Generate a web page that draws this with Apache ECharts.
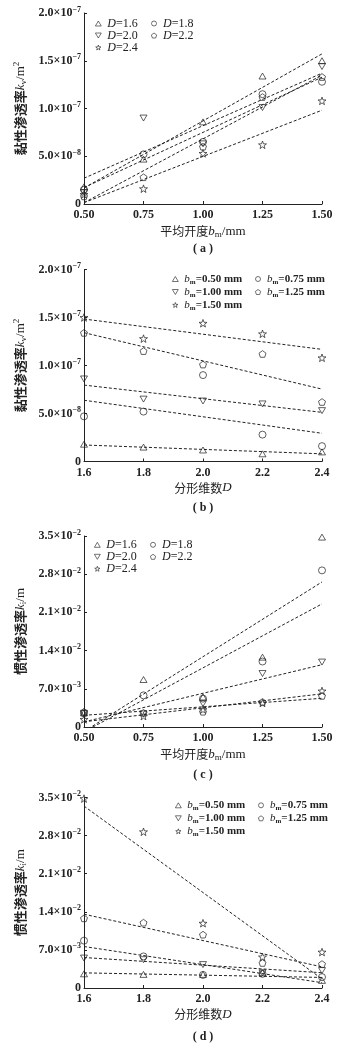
<!DOCTYPE html>
<html><head><meta charset="utf-8">
<script src="https://cdn.jsdelivr.net/npm/echarts@6/dist/echarts.min.js"></script>
<style>html,body{margin:0;padding:0;background:#fff}#c{width:357px;height:1051px}</style>
</head><body><div id="c"></div>
<script>
// ---------- data ----------
const bmMm = [0.50, 0.75, 1.00, 1.25, 1.50];          // mean aperture b_m (mm)
const fractalD = [1.6, 1.8, 2.0, 2.2, 2.4];           // fractal dimension D
// viscous permeability k_v (m^2), one row per D, columns follow bmMm
const kvD16 = [1.8e-8, 4.7e-8, 8.6e-8, 1.34e-7, 1.50e-7];
const kvD18 = [1.5e-8, 5.2e-8, 6.5e-8, 1.15e-7, 1.28e-7];
const kvD20 = [1.2e-8, 9.0e-8, 6.3e-8, 1.01e-7, 1.44e-7];
const kvD22 = [0.8e-8, 2.8e-8, 6.0e-8, 1.12e-7, 1.33e-7];
const kvD24 = [1.0e-8, 1.6e-8, 5.3e-8, 6.2e-8, 1.08e-7];
// inertial permeability k_i (m), one row per D, columns follow bmMm
const kiD16 = [2.6e-3, 8.7e-3, 5.5e-3, 1.28e-2, 3.48e-2];
const kiD18 = [2.5e-3, 5.8e-3, 5.2e-3, 1.20e-2, 2.87e-2];
const kiD20 = [2.5e-3, 2.4e-3, 4.3e-3, 9.8e-3, 1.19e-2];
const kiD22 = [2.8e-3, 2.6e-3, 2.8e-3, 4.6e-3, 5.7e-3];
const kiD24 = [1.4e-3, 2.0e-3, 3.2e-3, 4.4e-3, 6.6e-3];
// legend names
const dNames = ['1.6', '1.8', '2.0', '2.2', '2.4'];
const bmNames = ['0.50', '0.75', '1.00', '1.25', '1.50'];
// tick labels
const bmTickLabels = ['0.50', '0.75', '1.00', '1.25', '1.50'];
const dTickLabels = ['1.6', '1.8', '2.0', '2.2', '2.4'];
const kvTickLabels = ['0', '5.0×10^−8', '1.0×10^−7', '1.5×10^−7', '2.0×10^−7'];
const kiTickLabels = ['0', '7.0×10^−3', '1.4×10^−2', '2.1×10^−2', '2.8×10^−2', '3.5×10^−2'];
const captions = ['( a )', '( b )', '( c )', '( d )'];

// ---------- styling ----------
const NUM = '"Liberation Serif","Times New Roman",serif';
const CJK = '"Noto Sans CJK SC","Noto Sans CJK JP",sans-serif';
const INK = '#222';
const SYM = [
  'path://M10,0 L20,17 L0,17 Z',
  'circle',
  'path://M0,0 L20,0 L10,17 Z',
  'path://M10,0 L19.51,6.91 L15.88,18.09 L4.12,18.09 L0.49,6.91 Z',
  'path://M10,0 L12.35,6.76 L19.51,6.91 L13.8,11.24 L15.88,18.09 L10,14 L4.12,18.09 L6.2,11.24 L0.49,6.91 L7.65,6.76 Z'
];
const grids = [
  {left: 84, top: 13, width: 238, height: 191},
  {left: 84, top: 269.5, width: 238, height: 192},
  {left: 84, top: 536, width: 238, height: 191},
  {left: 84, top: 797.5, width: 238, height: 190.5}
];

const kvRows = [kvD16, kvD18, kvD20, kvD22, kvD24];
const kiRows = [kiD16, kiD18, kiD20, kiD22, kiD24];
const transpose = rows => rows[0].map((_, j) => rows.map(r => r[j]));

function linFit(xs, ys) {
  const n = xs.length;
  const mx = xs.reduce((a, b) => a + b, 0) / n;
  const my = ys.reduce((a, b) => a + b, 0) / n;
  let sxy = 0, sxx = 0;
  for (let i = 0; i < n; i++) { sxy += (xs[i] - mx) * (ys[i] - my); sxx += (xs[i] - mx) ** 2; }
  const k = sxy / sxx;
  return x => my + k * (x - mx);
}

const subRich = {
  c: {fontFamily: CJK, fontSize: 12, color: INK},
  cb: {fontFamily: CJK, fontSize: 13, fontWeight: 'bold', color: INK},
  i: {fontFamily: NUM, fontSize: 13, fontStyle: 'italic', color: INK},
  n: {fontFamily: NUM, fontSize: 13, color: INK},
  sub: {fontFamily: NUM, fontSize: 9, color: INK, padding: [6, 0, 0, 0]},
  sup: {fontFamily: NUM, fontSize: 9, color: INK, padding: [0, 0, 7, 0]}
};

function yFormatter(labels, step) {
  return v => {
    const s = labels[Math.round(v / step)] || '';
    if (s.indexOf('^') < 0) return '{m|' + s + '}';
    const p = s.split('^');
    return '{m|' + p[0] + '}{e|' + p[1] + '}';
  };
}
const yRich = {
  m: {fontFamily: NUM, fontSize: 12, fontWeight: 'bold', color: INK},
  e: {fontFamily: NUM, fontSize: 8, fontWeight: 'bold', color: INK, padding: [0, 0, 7, 0]}
};

const xAxes = [], yAxes = [], series = [], legends = [], titles = [];

const panels = [
  {xs: bmMm, rows: kvRows, names: dNames, kind: 'D', xTicks: bmTickLabels, xMin: 0.5, xMax: 1.5, xStep: 0.25,
   yMax: 2e-7, yStep: 5e-8, yLabels: kvTickLabels,
   xName: '{c|平均开度}{i|b}{sub|m}{n|/mm}', yName: '{cb|黏性渗透率}{i|k}{sub|v}{n|/m}{sup|2}'},
  {xs: fractalD, rows: transpose(kvRows), names: bmNames, kind: 'b', xTicks: dTickLabels, xMin: 1.6, xMax: 2.4, xStep: 0.2,
   yMax: 2e-7, yStep: 5e-8, yLabels: kvTickLabels,
   xName: '{c|分形维数}{i|D}', yName: '{cb|黏性渗透率}{i|k}{sub|v}{n|/m}{sup|2}'},
  {xs: bmMm, rows: kiRows, names: dNames, kind: 'D', xTicks: bmTickLabels, xMin: 0.5, xMax: 1.5, xStep: 0.25,
   yMax: 3.5e-2, yStep: 7e-3, yLabels: kiTickLabels,
   xName: '{c|平均开度}{i|b}{sub|m}{n|/mm}', yName: '{cb|惯性渗透率}{i|k}{sub|i}{n|/m}'},
  {xs: fractalD, rows: transpose(kiRows), names: bmNames, kind: 'b', xTicks: dTickLabels, xMin: 1.6, xMax: 2.4, xStep: 0.2,
   yMax: 3.5e-2, yStep: 7e-3, yLabels: kiTickLabels,
   xName: '{c|分形维数}{i|D}', yName: '{cb|惯性渗透率}{i|k}{sub|i}{n|/m}'}
];
const legendPos = [
  {cols: [95, 151], top: 17.5},
  {cols: [172, 255], top: 272.5},
  {cols: [94, 150], top: 538.8},
  {cols: [175, 258], top: 798.8}
];
const captionY = [243, 502, 769, 1031];

panels.forEach((p, gi) => {
  xAxes.push({
    type: 'value', gridIndex: gi, min: p.xMin, max: p.xMax, interval: p.xStep,
    axisLine: {lineStyle: {color: INK, width: 1}},
    axisTick: {inside: true, length: 3, lineStyle: {color: INK}},
    splitLine: {show: false},
    axisLabel: {margin: 5, fontFamily: NUM, fontSize: 12, fontWeight: 'bold', color: INK,
      formatter: v => p.xTicks[Math.round((v - p.xMin) / p.xStep)]},
    name: p.xName, nameLocation: 'middle', nameGap: 20,
    nameTextStyle: {rich: subRich}
  });
  yAxes.push({
    type: 'value', gridIndex: gi, min: 0, max: p.yMax, interval: p.yStep,
    axisLine: {show: true, lineStyle: {color: INK, width: 1}},
    axisTick: {show: true, inside: true, length: 3, lineStyle: {color: INK}},
    splitLine: {show: false},
    axisLabel: {margin: 3, formatter: yFormatter(p.yLabels, p.yStep), rich: yRich},
    name: p.yName, nameLocation: 'middle', nameGap: 45, nameRotate: 90,
    nameTextStyle: {rich: subRich}
  });
  const names = [];
  p.rows.forEach((row, si) => {
    const nm = 'p' + gi + '_' + si;
    names.push(nm);
    series.push({
      type: 'scatter', name: nm, xAxisIndex: gi, yAxisIndex: gi,
      symbol: SYM[si], symbolSize: si === 4 ? 8 : 7, symbolKeepAspect: true,
      itemStyle: {color: 'rgba(0,0,0,0)', borderColor: INK, borderWidth: 0.9},
      data: p.xs.map((x, k) => [x, row[k]]), z: 3
    });
    const f = linFit(p.xs, row);
    series.push({
      type: 'line', xAxisIndex: gi, yAxisIndex: gi, symbol: 'none', silent: true, clip: true,
      lineStyle: {color: INK, width: 1, type: [3, 2]},
      data: [[p.xMin, f(p.xMin)], [p.xMax, f(p.xMax)]], z: 2
    });
  });
  const lp = legendPos[gi];
  const isD = p.kind === 'D';
  const fmt = nm => {
    const si = +nm.split('_')[1];
    return isD ? '{i|D}{n|=' + p.names[si] + '}' : '{i|b}{sub|m}{nb|=' + p.names[si] + ' mm}';
  };
  const lRich = isD ? {
    i: {fontFamily: NUM, fontSize: 12, fontStyle: 'italic', color: INK, lineHeight: 10.7},
    n: {fontFamily: NUM, fontSize: 12, color: INK, lineHeight: 10.7}
  } : {
    i: {fontFamily: NUM, fontSize: 11, fontStyle: 'italic', color: INK, lineHeight: 10.5},
    nb: {fontFamily: NUM, fontSize: 11, fontWeight: 'bold', color: INK, lineHeight: 10.5},
    sub: {fontFamily: NUM, fontSize: 7, fontWeight: 'bold', color: INK, padding: [6, 0, 0, 0], lineHeight: 4}
  };
  [[0, 2, 4], [1, 3]].forEach((idxs, c) => {
    legends.push({
      orient: 'vertical', left: lp.cols[c], top: lp.top, padding: 0, itemGap: 0,
      itemWidth: 8, itemHeight: 5, selectedMode: false,
      itemStyle: {color: 'rgba(0,0,0,0)', borderColor: INK, borderWidth: 0.8},
      data: idxs.map(k => names[k]), formatter: fmt,
      textStyle: {rich: lRich}
    });
  });
  titles.push({
    text: captions[gi], left: 203, top: captionY[gi], textAlign: 'center', padding: 0,
    textStyle: {fontFamily: NUM, fontSize: 12, fontWeight: 'bold', color: INK}
  });
});

const chart = echarts.init(document.getElementById('c'), null, {renderer: 'canvas', width: 357, height: 1051});
chart.setOption({
  animation: false,
  backgroundColor: '#fff',
  title: titles,
  grid: grids,
  xAxis: xAxes,
  yAxis: yAxes,
  legend: legends,
  series: series
});
</script></body></html>
